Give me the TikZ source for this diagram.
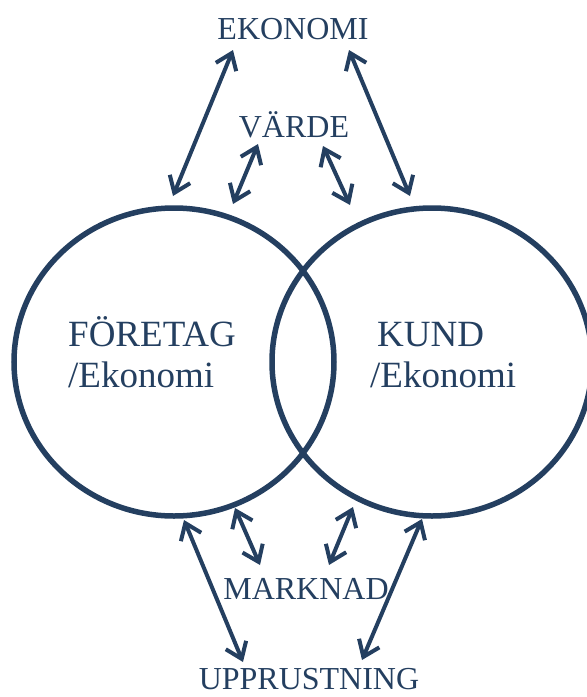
\documentclass[tikz,border=0pt]{standalone}
\usepackage{fontspec}
\setmainfont{Liberation Serif}
\usetikzlibrary{arrows.meta,shapes.geometric}
\definecolor{navy}{RGB}{36,63,96}
\tikzset{
    pil/.style={{Straight Barb[length=15pt,width=22pt]}-{Straight Barb[length=15pt,width=22pt]}, line width=4pt, navy},
    ring/.style={ellipse, draw=navy, line width=5.5pt, inner sep=0pt, minimum width=320pt, minimum height=308pt},
    rubrik/.style={text=navy, inner sep=0pt, font=\fontsize{32}{38}\selectfont},
    cirkeltext/.style={text=navy, inner sep=0pt, align=left, font=\fontsize{37}{41}\selectfont}
}

\begin{document}
\begin{tikzpicture}[x=1pt, y=-1pt]
        \useasboundingbox (0,0) rectangle (587,697);
        % cirklarna
        \node[ring] (foretag) at (174,362) {};
        \node[ring] (kund) at (432,362) {};
        \node[cirkeltext, anchor=base west] (foretagtext) at (68,387) {FÖRETAG\\/Ekonomi};
        \node[cirkeltext, anchor=base west] (kundtext) at (370,387) {\hspace*{7pt}KUND\\/Ekonomi};
        % rubriker
        \node[rubrik, anchor=base] (ekonomi) at (293,39) {EKONOMI};
        \node[rubrik, anchor=base] (varde) at (294,137) {VÄRDE};
        \node[rubrik, anchor=base] (marknad) at (306,599) {MARKNAD};
        \node[rubrik, anchor=base] (upprustning) at (309,689) {UPPRUSTNING};
        % pilarnas ändar
        \coordinate (ekonomi1) at (233,50);
        \coordinate (ekonomi2) at (349,50);
        \coordinate (varde1) at (258,144);
        \coordinate (varde2) at (323,146);
        \coordinate (foretag1) at (173,196);
        \coordinate (foretag2) at (233,204);
        \coordinate (kund1) at (350,205);
        \coordinate (kund2) at (410,196);
        \coordinate (foretag3) at (184,520);
        \coordinate (foretag4) at (235,508);
        \coordinate (kund3) at (353,507);
        \coordinate (kund4) at (422,519);
        \coordinate (marknad1) at (260,565);
        \coordinate (marknad2) at (329,565);
        \coordinate (upprustning1) at (243,662);
        \coordinate (upprustning2) at (362,660);
        % pilar
        \draw[pil] (ekonomi1) -- (foretag1);
        \draw[pil] (ekonomi2) -- (kund2);
        \draw[pil] (varde1) -- (foretag2);
        \draw[pil] (varde2) -- (kund1);
        \draw[pil] (foretag4) -- (marknad1);
        \draw[pil] (kund3) -- (marknad2);
        \draw[pil] (foretag3) -- (upprustning1);
        \draw[pil] (kund4) -- (upprustning2);
\end{tikzpicture}
\end{document}
